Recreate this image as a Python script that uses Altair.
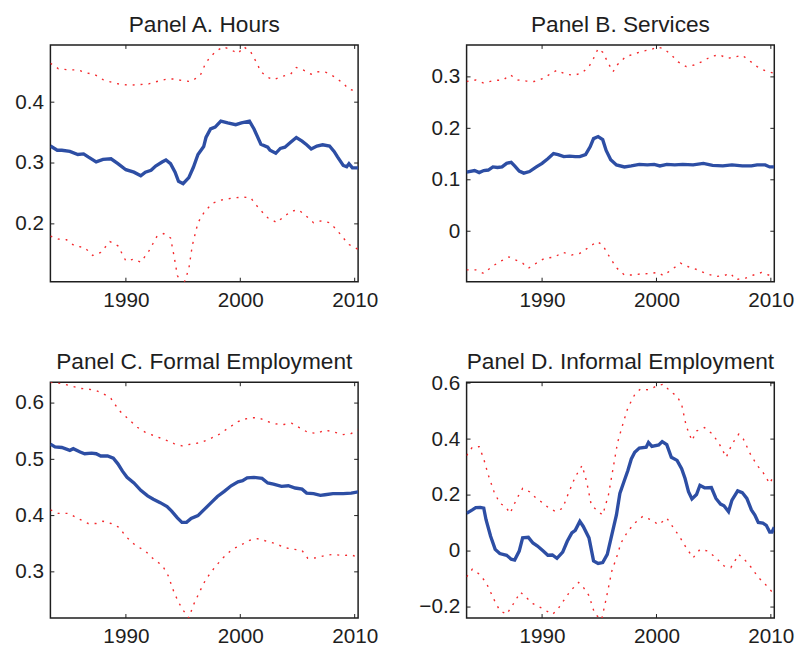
import altair as alt
import pandas as pd

XDOM = [1983.4, 2010.3]
XTICKS = [1990, 2000, 2010]

# ---------------- Panel A. Hours ----------------
a_mid_year = [1983.4, 1984.0, 1984.4, 1985.1, 1985.8, 1986.3, 1986.7, 1987.4, 1988.0, 1988.7,
              1989.3, 1990.0, 1990.7, 1991.3, 1991.7, 1992.2, 1992.6, 1993.2, 1993.5, 1993.9,
              1994.3, 1994.6, 1995.0, 1995.5, 1995.9, 1996.3, 1996.8, 1997.0, 1997.4, 1997.8,
              1998.3, 1998.9, 1999.6, 2000.1, 2000.8, 2001.2, 2001.8, 2002.4, 2002.6, 2003.1,
              2003.5, 2003.9, 2004.4, 2004.9, 2005.4, 2005.8, 2006.2, 2006.7, 2007.2, 2007.8,
              2008.2, 2008.5, 2009.0, 2009.3, 2009.5, 2009.8, 2010.3]
a_mid_val = [0.328, 0.321, 0.321, 0.319, 0.314, 0.315, 0.310, 0.302, 0.306, 0.307,
             0.299, 0.289, 0.285, 0.279, 0.285, 0.288, 0.295, 0.302, 0.305, 0.299,
             0.285, 0.270, 0.266, 0.276, 0.293, 0.314, 0.327, 0.342, 0.356, 0.359,
             0.369, 0.366, 0.363, 0.366, 0.369, 0.356, 0.331, 0.326, 0.321, 0.316,
             0.324, 0.326, 0.334, 0.342, 0.336, 0.330, 0.323, 0.328, 0.330, 0.328,
             0.319, 0.310, 0.296, 0.294, 0.299, 0.292, 0.292]
a_up_year = [1983.4, 1984.1, 1985.0, 1985.8, 1986.6, 1987.3, 1988.0, 1988.9, 1989.6, 1990.4,
             1991.3, 1992.0, 1992.9, 1993.6, 1994.3, 1995.0, 1995.7, 1996.5, 1996.9, 1997.3,
             1997.9, 1998.5, 1999.2, 1999.8, 2000.3, 2000.9, 2001.4, 2001.8, 2002.4, 2002.9,
             2003.6, 2004.4, 2004.9, 2005.5, 2006.2, 2006.8, 2007.5, 2008.2, 2009.0, 2009.5,
             2010.3]
a_up_val = [0.464, 0.455, 0.453, 0.453, 0.448, 0.445, 0.437, 0.432, 0.429, 0.428,
            0.429, 0.430, 0.435, 0.438, 0.438, 0.435, 0.434, 0.444, 0.461, 0.473,
            0.484, 0.491, 0.486, 0.480, 0.491, 0.483, 0.466, 0.450, 0.441, 0.437,
            0.442, 0.446, 0.457, 0.453, 0.446, 0.450, 0.449, 0.442, 0.431, 0.421,
            0.418]
a_lo_year = [1983.4, 1984.1, 1984.8, 1985.5, 1986.4, 1987.1, 1987.8, 1988.6, 1989.3, 1990.0,
             1990.7, 1991.3, 1992.0, 1992.7, 1993.3, 1993.9, 1994.2, 1994.5, 1995.0, 1995.5,
             1995.8, 1996.3, 1996.9, 1997.6, 1998.3, 1999.2, 2000.1, 2000.9, 2001.6, 2002.4,
             2003.2, 2003.8, 2004.5, 2005.1, 2005.7, 2006.4, 2007.1, 2007.8, 2008.4, 2009.0,
             2009.5, 2010.0, 2010.3]
a_lo_val = [0.180, 0.175, 0.174, 0.164, 0.161, 0.148, 0.153, 0.171, 0.164, 0.139,
            0.142, 0.137, 0.155, 0.179, 0.184, 0.177, 0.148, 0.115, 0.098, 0.126,
            0.164, 0.202, 0.221, 0.234, 0.239, 0.242, 0.244, 0.243, 0.226, 0.210,
            0.202, 0.212, 0.221, 0.223, 0.214, 0.202, 0.205, 0.202, 0.191, 0.177,
            0.166, 0.161, 0.158]

# ---------------- Panel B. Services ----------------
b_mid_year = [1983.4, 1984.1, 1984.5, 1984.9, 1985.3, 1985.7, 1986.1, 1986.5, 1986.9, 1987.3,
              1987.6, 1988.0, 1988.4, 1988.9, 1989.5, 1990.0, 1990.5, 1991.0, 1991.4, 1991.9,
              1992.4, 1992.9, 1993.3, 1993.8, 1994.2, 1994.5, 1994.9, 1995.3, 1995.6, 1996.0,
              1996.5, 1997.2, 1997.8, 1998.5, 1999.2, 1999.8, 2000.3, 2000.9, 2001.6, 2002.3,
              2003.2, 2004.1, 2004.9, 2005.8, 2006.6, 2007.5, 2008.3, 2008.8, 2009.5, 2009.9,
              2010.3]
b_mid_val = [0.115, 0.118, 0.114, 0.118, 0.119, 0.125, 0.124, 0.125, 0.132, 0.134,
             0.127, 0.117, 0.113, 0.116, 0.125, 0.132, 0.141, 0.151, 0.149, 0.145,
             0.146, 0.145, 0.145, 0.149, 0.164, 0.180, 0.184, 0.178, 0.157, 0.139,
             0.129, 0.125, 0.127, 0.130, 0.129, 0.130, 0.127, 0.130, 0.129, 0.130,
             0.129, 0.132, 0.128, 0.127, 0.129, 0.127, 0.127, 0.129, 0.129, 0.125,
             0.125]
b_up_year = [1983.4, 1984.2, 1984.9, 1985.8, 1986.6, 1987.2, 1987.9, 1988.6, 1989.3, 1990.1,
             1990.8, 1991.3, 1992.1, 1992.8, 1993.5, 1994.1, 1994.5, 1994.9, 1995.3, 1995.8,
             1996.2, 1996.6, 1997.3, 1998.1, 1998.8, 1999.5, 2000.1, 2000.6, 2001.2, 2001.9,
             2002.6, 2003.3, 2004.1, 2004.8, 2005.5, 2006.2, 2006.9, 2007.5, 2008.1, 2008.8,
             2009.5, 2010.3]
b_up_val = [0.291, 0.294, 0.288, 0.293, 0.294, 0.304, 0.294, 0.292, 0.291, 0.297,
            0.307, 0.313, 0.305, 0.303, 0.308, 0.320, 0.336, 0.355, 0.348, 0.326,
            0.310, 0.324, 0.339, 0.345, 0.350, 0.353, 0.358, 0.355, 0.345, 0.329,
            0.320, 0.323, 0.331, 0.340, 0.343, 0.336, 0.339, 0.342, 0.332, 0.320,
            0.312, 0.307]
b_lo_year = [1983.4, 1984.2, 1984.9, 1985.6, 1986.3, 1987.1, 1987.6, 1988.3, 1988.8, 1989.5,
             1990.2, 1991.1, 1991.8, 1992.6, 1993.3, 1994.1, 1994.8, 1995.3, 1995.9, 1996.5,
             1997.2, 1997.9, 1998.6, 1999.5, 2000.1, 2000.6, 2001.3, 2002.1, 2002.8, 2003.6,
             2004.3, 2005.2, 2005.9, 2006.5, 2006.9, 2007.8, 2008.5, 2009.2, 2009.8, 2010.3]
b_lo_val = [-0.075, -0.075, -0.082, -0.069, -0.059, -0.050, -0.055, -0.062, -0.072, -0.062,
            -0.053, -0.050, -0.041, -0.046, -0.043, -0.031, -0.020, -0.027, -0.050, -0.071,
            -0.085, -0.085, -0.083, -0.082, -0.080, -0.086, -0.075, -0.062, -0.069, -0.075,
            -0.082, -0.088, -0.086, -0.082, -0.094, -0.091, -0.085, -0.080, -0.085, -0.091]

# ---------------- Panel C. Formal Employment ----------------
c_mid_year = [1983.4, 1983.8, 1984.4, 1985.1, 1985.4, 1986.0, 1986.4, 1987.0, 1987.4, 1987.8,
              1988.4, 1988.9, 1989.3, 1989.7, 1990.1, 1990.7, 1991.3, 1991.9, 1992.4, 1993.0,
              1993.6, 1994.0, 1994.5, 1994.9, 1995.3, 1995.7, 1996.3, 1996.9, 1997.5, 1998.0,
              1998.6, 1999.2, 1999.8, 2000.2, 2000.6, 2001.2, 2001.9, 2002.4, 2002.9, 2003.6,
              2004.2, 2004.8, 2005.4, 2005.8, 2006.4, 2007.0, 2007.4, 2008.1, 2009.0, 2009.7,
              2010.3]
c_mid_val = [0.527, 0.522, 0.521, 0.516, 0.519, 0.513, 0.510, 0.511, 0.510, 0.506,
             0.506, 0.502, 0.492, 0.479, 0.468, 0.458, 0.445, 0.435, 0.429, 0.423,
             0.416, 0.408, 0.396, 0.388, 0.388, 0.395, 0.400, 0.412, 0.424, 0.434,
             0.443, 0.453, 0.460, 0.462, 0.467, 0.468, 0.466, 0.458, 0.456, 0.452,
             0.453, 0.449, 0.447, 0.440, 0.439, 0.436, 0.437, 0.439, 0.439, 0.440,
             0.442]
c_up_year = [1983.4, 1984.3, 1985.1, 1986.0, 1986.7, 1987.4, 1988.0, 1988.7, 1989.4, 1990.3,
             1991.0, 1991.7, 1992.6, 1993.4, 1994.2, 1994.9, 1995.7, 1996.6, 1997.5, 1998.2,
             1998.9, 1999.8, 2000.3, 2000.9, 2001.6, 2002.4, 2003.1, 2003.8, 2004.5, 2005.2,
             2005.9, 2006.7, 2007.4, 2008.1, 2009.0, 2009.7, 2010.3]
c_up_val = [0.637, 0.635, 0.631, 0.626, 0.625, 0.622, 0.617, 0.608, 0.587, 0.570,
            0.557, 0.548, 0.541, 0.535, 0.528, 0.524, 0.527, 0.530, 0.538, 0.545,
            0.555, 0.567, 0.571, 0.574, 0.574, 0.567, 0.563, 0.562, 0.564, 0.556,
            0.548, 0.546, 0.552, 0.549, 0.544, 0.546, 0.552]
c_lo_year = [1983.4, 1984.1, 1985.0, 1985.8, 1986.7, 1987.4, 1988.0, 1988.7, 1989.4, 1990.0,
             1990.6, 1991.1, 1991.7, 1992.4, 1993.2, 1993.7, 1994.2, 1994.6, 1995.0, 1995.5,
             1995.9, 1996.5, 1997.0, 1997.8, 1998.5, 1999.3, 2000.1, 2000.8, 2001.5, 2002.4,
             2003.1, 2003.9, 2004.7, 2005.4, 2005.9, 2006.7, 2007.4, 2008.1, 2009.0, 2009.7,
             2010.3]
c_lo_val = [0.410, 0.404, 0.404, 0.395, 0.386, 0.386, 0.390, 0.386, 0.379, 0.363,
            0.351, 0.344, 0.337, 0.323, 0.311, 0.293, 0.264, 0.246, 0.232, 0.218,
            0.241, 0.267, 0.287, 0.309, 0.325, 0.340, 0.348, 0.356, 0.359, 0.354,
            0.350, 0.343, 0.340, 0.338, 0.324, 0.325, 0.329, 0.331, 0.329, 0.330,
            0.326]

# ---------------- Panel D. Informal Employment ----------------
d_mid_year = [1983.4, 1983.9, 1984.2, 1984.6, 1984.9, 1985.1, 1985.5, 1985.9, 1986.3, 1986.9,
              1987.3, 1987.6, 1988.0, 1988.3, 1988.8, 1989.2, 1989.6, 1990.1, 1990.5, 1990.9,
              1991.3, 1991.8, 1992.2, 1992.6, 1992.9, 1993.3, 1993.6, 1994.1, 1994.5, 1994.9,
              1995.3, 1995.7, 1996.1, 1996.5, 1996.8, 1997.2, 1997.5, 1997.8, 1998.1, 1998.5,
              1999.1, 1999.3, 1999.6, 2000.2, 2000.5, 2000.9, 2001.3, 2001.8, 2002.2, 2002.5,
              2002.8, 2003.1, 2003.5, 2003.8, 2004.2, 2004.8, 2005.2, 2005.6, 2005.9, 2006.3,
              2006.6, 2007.1, 2007.5, 2007.9, 2008.3, 2008.6, 2008.9, 2009.3, 2009.6, 2009.9,
              2010.1, 2010.3]
d_mid_val = [0.135, 0.147, 0.155, 0.156, 0.153, 0.112, 0.053, 0.006, -0.009, -0.015,
             -0.029, -0.032, 0.000, 0.047, 0.049, 0.029, 0.018, 0.000, -0.015, -0.014,
             -0.026, -0.004, 0.035, 0.065, 0.074, 0.106, 0.088, 0.047, -0.035, -0.044,
             -0.041, -0.012, 0.059, 0.129, 0.206, 0.253, 0.288, 0.329, 0.353, 0.368,
             0.371, 0.388, 0.374, 0.379, 0.391, 0.380, 0.335, 0.324, 0.294, 0.259,
             0.212, 0.186, 0.202, 0.235, 0.226, 0.227, 0.188, 0.168, 0.162, 0.141,
             0.182, 0.215, 0.209, 0.188, 0.147, 0.129, 0.102, 0.100, 0.092, 0.068,
             0.068, 0.085]
d_up_year = [1983.4, 1983.9, 1984.5, 1984.9, 1985.3, 1985.8, 1986.3, 1986.8, 1987.2, 1987.8,
             1988.3, 1988.9, 1989.5, 1990.1, 1990.6, 1991.2, 1991.8, 1992.3, 1992.9, 1993.5,
             1993.9, 1994.3, 1994.9, 1995.3, 1995.8, 1996.2, 1996.6, 1997.1, 1997.5, 1998.1,
             1998.6, 1999.3, 2000.1, 2000.6, 2001.2, 2001.8, 2002.2, 2002.6, 2003.1, 2003.5,
             2004.2, 2004.9, 2005.5, 2006.1, 2006.6, 2007.2, 2007.6, 2008.2, 2008.8, 2009.3,
             2009.9, 2010.3]
d_up_val = [0.341, 0.371, 0.373, 0.329, 0.271, 0.212, 0.171, 0.159, 0.135, 0.188,
            0.224, 0.212, 0.188, 0.171, 0.153, 0.141, 0.153, 0.206, 0.265, 0.306,
            0.247, 0.165, 0.141, 0.129, 0.200, 0.294, 0.388, 0.459, 0.512, 0.559,
            0.579, 0.576, 0.591, 0.596, 0.571, 0.553, 0.524, 0.447, 0.394, 0.429,
            0.441, 0.418, 0.382, 0.335, 0.382, 0.418, 0.400, 0.347, 0.306, 0.282,
            0.241, 0.273]
d_lo_year = [1983.4, 1983.9, 1984.5, 1985.1, 1985.5, 1985.9, 1986.3, 1986.9, 1987.5, 1988.1,
             1988.6, 1989.2, 1989.8, 1990.3, 1990.9, 1991.3, 1991.9, 1992.5, 1993.2, 1993.6,
             1994.1, 1994.6, 1995.2, 1995.6, 1996.1, 1996.5, 1996.9, 1997.5, 1998.1, 1998.8,
             1999.5, 2000.2, 2000.9, 2001.5, 2002.0, 2002.6, 2003.2, 2003.8, 2004.5, 2005.2,
             2005.9, 2006.5, 2007.2, 2007.8, 2008.3, 2008.9, 2009.5, 2010.0, 2010.3]
d_lo_val = [-0.092, -0.065, -0.082, -0.112, -0.147, -0.182, -0.212, -0.226, -0.188, -0.147,
            -0.165, -0.188, -0.200, -0.212, -0.226, -0.212, -0.176, -0.141, -0.112, -0.129,
            -0.159, -0.224, -0.245, -0.171, -0.071, -0.024, 0.029, 0.071, 0.100, 0.124,
            0.112, 0.094, 0.118, 0.082, 0.053, 0.012, -0.024, 0.006, 0.000, -0.024,
            -0.053, -0.059, -0.012, -0.035, -0.059, -0.094, -0.118, -0.141, -0.153]

BLUE = "#2d4ea4"
RED = "#f4282c"
INK = "#1e1e1e"
FONT = "Liberation Sans"
W = 312
TICK = 4


def panel(title, mid, up, lo, ydom, yticks, yext, h, toff):
    xs = alt.Scale(domain=XDOM, nice=False, zero=False)
    ys = alt.Scale(domain=ydom, nice=False, zero=False)
    ax_x_lab = alt.Axis(values=XTICKS, format="d", ticks=False, domain=False, grid=False,
                        labelPadding=8, labelFlush=False, labelOverlap=False, title=None,
                        labelFont=FONT, labelFontSize=21, labelColor=INK)
    ax_y_lab = alt.Axis(values=yticks, format=".1~f", ticks=False, domain=False, grid=False,
                        labelPadding=7, minExtent=yext, maxExtent=yext, labelOverlap=False,
                        title=None, labelFont=FONT, labelFontSize=21, labelColor=INK)

    m = alt.Chart(pd.DataFrame({"year": mid[0], "value": mid[1]})).mark_line(
        color=BLUE, strokeWidth=3.4, clip=True
    ).encode(
        x=alt.X("year:Q", scale=xs, axis=ax_x_lab),
        y=alt.Y("value:Q", scale=ys, axis=ax_y_lab),
    )
    u = alt.Chart(pd.DataFrame({"year": up[0], "value": up[1]})).mark_line(
        color=RED, strokeWidth=1.4, strokeDash=[2, 6], clip=True
    ).encode(
        x=alt.X("year:Q", scale=xs, axis=None),
        y=alt.Y("value:Q", scale=ys, axis=None),
    )
    l = alt.Chart(pd.DataFrame({"year": lo[0], "value": lo[1]})).mark_line(
        color=RED, strokeWidth=1.4, strokeDash=[2, 6], clip=True
    ).encode(
        x=alt.X("year:Q", scale=xs, axis=None),
        y=alt.Y("value:Q", scale=ys, axis=None),
    )
    # inward tick marks on all four sides, positioned by the scales
    xt = pd.DataFrame({"t": XTICKS})
    yt = pd.DataFrame({"t": yticks})
    tick_style = dict(color=INK, strokeWidth=1)
    xt_bot = alt.Chart(xt).mark_rule(**tick_style).encode(
        x=alt.X("t:Q", scale=xs, axis=None), y=alt.value(h), y2=alt.value(h - TICK))
    xt_top = alt.Chart(xt).mark_rule(**tick_style).encode(
        x=alt.X("t:Q", scale=xs, axis=None), y=alt.value(0), y2=alt.value(TICK))
    yt_left = alt.Chart(yt).mark_rule(**tick_style).encode(
        y=alt.Y("t:Q", scale=ys, axis=None), x=alt.value(0), x2=alt.value(TICK))
    yt_right = alt.Chart(yt).mark_rule(**tick_style).encode(
        y=alt.Y("t:Q", scale=ys, axis=None), x=alt.value(W - TICK), x2=alt.value(W))

    return alt.layer(m, u, l, xt_bot, xt_top, yt_left, yt_right).resolve_axis(
        x="independent", y="independent"
    ).properties(
        width=W, height=h,
        view=alt.ViewBackground(stroke=INK, strokeWidth=1.5),
        title=alt.TitleParams(title, anchor="middle", fontSize=23, font=FONT,
                              fontWeight="normal", color=INK, offset=toff),
    )


pA = panel("Panel A. Hours", (a_mid_year, a_mid_val), (a_up_year, a_up_val),
           (a_lo_year, a_lo_val), [0.105, 0.494], [0.2, 0.3, 0.4], 39, 240, 8)
pB = panel("Panel B. Services", (b_mid_year, b_mid_val), (b_up_year, b_up_val),
           (b_lo_year, b_lo_val), [-0.098, 0.362], [0, 0.1, 0.2, 0.3], 39, 240, 8)
pC = panel("Panel C. Formal Employment", (c_mid_year, c_mid_val), (c_up_year, c_up_val),
           (c_lo_year, c_lo_val), [0.218, 0.637], [0.3, 0.4, 0.5, 0.6], 39, 239, 8)
pD = panel("Panel D. Informal Employment", (d_mid_year, d_mid_val), (d_up_year, d_up_val),
           (d_lo_year, d_lo_val), [-0.239, 0.603], [-0.2, 0, 0.2, 0.4, 0.6], 52, 239, -2)

top = alt.hconcat(pA, pB, spacing=49)
bottom = alt.hconcat(pC, pD, spacing=36)

chart = alt.vconcat(top, bottom, spacing=39).properties(
    padding={"left": 3, "top": 0, "right": 0, "bottom": 0},
    background="white",
).configure_view(
    stroke=INK, strokeWidth=1.5
)

chart.save("out.html", embed_options={"renderer": "svg", "actions": False})
